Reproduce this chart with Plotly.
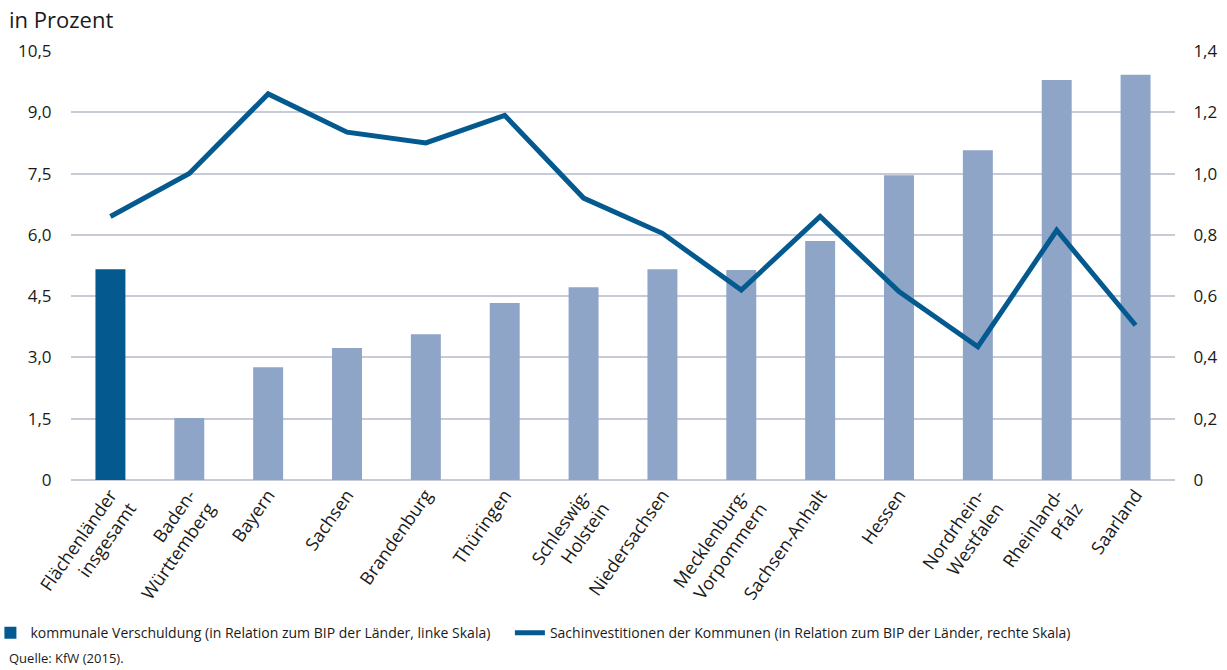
import plotly.graph_objects as go

categories = ["Flächenländer<br>insgesamt", "Baden-<br>Württemberg", "Bayern", "Sachsen",
              "Brandenburg", "Thüringen", "Schleswig-<br>Holstein", "Niedersachsen",
              "Mecklenburg-<br>Vorpommern", "Sachsen-Anhalt", "Hessen", "Nordrhein-<br>Westfalen",
              "Rheinland-<br>Pfalz", "Saarland"]
verschuldung = [5.16, 1.52, 2.76, 3.23, 3.57, 4.33, 4.72, 5.16, 5.14, 5.85, 7.46, 8.07, 9.79, 9.92]
sachinvest = [0.86, 1.00, 1.26, 1.135, 1.10, 1.19, 0.92, 0.805, 0.62, 0.86, 0.615, 0.435, 0.815, 0.505]
left_tickvals = [0, 1.5, 3.0, 4.5, 6.0, 7.5, 9.0, 10.5]
left_ticktext = ["0", "1,5", "3,0", "4,5", "6,0", "7,5", "9,0", "10,5"]
right_tickvals = [0, 0.2, 0.4, 0.6, 0.8, 1.0, 1.2, 1.4]
right_ticktext = ["0", "0,2", "0,4", "0,6", "0,8", "1,0", "1,2", "1,4"]

dark = "#045a8f"
light = "#8fa5c8"
grid = "#c6cbd7"
font = "Open Sans"

bar_colors = [dark] + [light] * (len(categories) - 1)

fig = go.Figure()
fig.add_trace(go.Bar(
    x=categories, y=verschuldung, marker=dict(color=bar_colors, line=dict(width=0)),
    name="kommunale Verschuldung (in Relation zum BIP der Länder, linke Skala)" + "\u00a0" * 4,
    yaxis="y",
))
fig.add_trace(go.Scatter(
    x=categories, y=sachinvest, mode="lines", line=dict(color=dark, width=5),
    name="Sachinvestitionen der Kommunen (in Relation zum BIP der Länder, rechte Skala)",
    yaxis="y2",
))

fig.update_layout(
    width=1227, height=670,
    margin=dict(l=71, r=52, t=51, b=190, autoexpand=False),
    paper_bgcolor="white", plot_bgcolor="white",
    font=dict(family=font, color="#1a1a1a"),
    bargap=0.62,
    showlegend=True,
    legend=dict(orientation="h", x=-0.073, y=-0.357, xanchor="left", yanchor="middle",
                font=dict(size=14, family=font, color="#1a1a1a"), itemwidth=30,
                traceorder="normal", bgcolor="rgba(0,0,0,0)"),
    xaxis=dict(tickangle=-55, tickfont=dict(size=18, family=font), showgrid=False,
               showline=False, ticks="", automargin=False),
    yaxis=dict(range=[0, 10.5], tickvals=left_tickvals, ticktext=left_ticktext,
               tickfont=dict(size=17, family=font), showgrid=True, gridcolor=grid,
               gridwidth=1.5, zeroline=True, zerolinecolor=grid, zerolinewidth=1.5,
               ticks="outside", ticklen=15, tickcolor="rgba(0,0,0,0)", automargin=False),
    yaxis2=dict(range=[0, 1.4], tickvals=right_tickvals, ticktext=right_ticktext,
                overlaying="y", side="right", showgrid=False, zeroline=False,
                tickfont=dict(size=17, family=font),
                ticks="outside", ticklen=14, tickcolor="rgba(0,0,0,0)", automargin=False),
    annotations=[
        dict(text="in Prozent", xref="paper", yref="paper", x=-0.058, y=1.035,
             xanchor="left", yanchor="bottom", showarrow=False,
             font=dict(size=22, family=font, color="#1a1a1a")),
        dict(text="Quelle: KfW (2015).", xref="paper", yref="paper", x=-0.058, y=-0.415,
             xanchor="left", yanchor="middle", showarrow=False,
             font=dict(size=13, family=font, color="#1a1a1a")),
    ],
)

fig.write_html("out.html")
